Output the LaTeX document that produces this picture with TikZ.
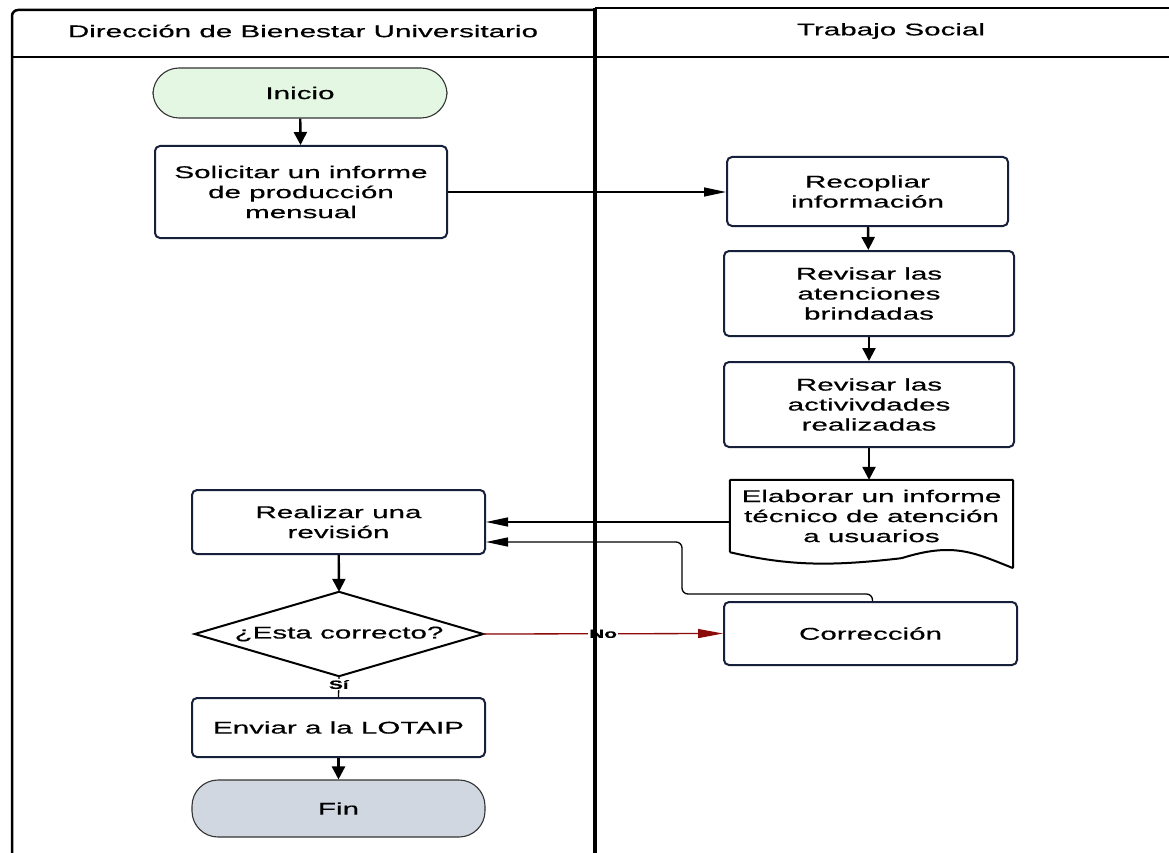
\documentclass[tikz,border=0pt]{standalone}
\usepackage{fontspec}
\setmainfont{Liberation Sans}[FakeStretch=1.74,FakeBold=0.5]
\usetikzlibrary{arrows.meta,calc}
\definecolor{boxline}{HTML}{16203A}
\definecolor{startfill}{HTML}{E3F7E3}
\definecolor{endfill}{HTML}{D0D7E0}
\definecolor{noline}{HTML}{8B0A0A}

\begin{document}
\begin{tikzpicture}[x=1pt,y=-1pt,
  every node/.style={font=\fontsize{17}{20}\selectfont, align=center, inner sep=0pt},
  proc/.style={draw=boxline, line width=2pt, rounded corners=5pt, fill=white},
  term/.style={draw=black!80, line width=1.1pt, rounded corners=26pt},
  varr/.style={-{Triangle[length=13pt,width=13pt]}, line width=2.4pt},
  harr/.style={-{Triangle[length=22pt,width=9pt]}, line width=1.3pt},
  tag/.style={font=\fontsize{12}{14}\selectfont\bfseries, fill=white, inner sep=1pt}]

\useasboundingbox (0,0) rectangle (1169,853);
\fill[white] (0,0) rectangle (1169,853);

% lane headers
\node (h1) at (303,31) {Dirección de Bienestar Universitario};
\node (h2) at (891,31) {Trabajo Social};

% Dirección de Bienestar Universitario
\node[term, fill=startfill, minimum width=294, minimum height=50] (ini) at (300,93) {Inicio};
\node[proc, minimum width=292, minimum height=92] (sol) at (301,192) {Solicitar un informe\\de producción\\mensual};
\node[proc, minimum width=293, minimum height=64] (rev) at (338.5,522) {Realizar una\\revisión};
\node[minimum width=288, minimum height=84] (dec) at (339,634) {¿Esta correcto?};
\draw[line width=2pt, line join=miter] (dec.west) -- (dec.north) -- (dec.east) -- (dec.south) -- cycle;
\node[proc, minimum width=293, minimum height=59] (env) at (338.5,727.5) {Enviar a la LOTAIP};
\node[term, fill=endfill, minimum width=293, minimum height=57] (fin) at (338.5,808.5) {Fin};

% Trabajo Social
\node[proc, minimum width=281, minimum height=69] (rec) at (867.5,191.5) {Recopliar\\información};
\node[proc, minimum width=290, minimum height=85] (ra) at (869,293.5) {Revisar las\\atenciones\\brindadas};
\node[proc, minimum width=290, minimum height=85] (rb) at (869,404.5) {Revisar las\\activivdades\\realizadas};
\node[minimum width=283, minimum height=72] (ela) at (871.5,516) {Elaborar un informe\\técnico de atención\\a usuarios};
\draw[draw=black, line width=2pt, fill=white, rounded corners=1pt]
  (ela.south west) -- (ela.north west) -- (ela.north east) -- ($(ela.south east)+(0,16)$)
  .. controls ($(ela.south east)+(-40,0)$) and ($(ela.south east)+(-60,-10)$) .. ($(ela.south)+(30,6)$)
  .. controls ($(ela.south)+(-40,14)$) and ($(ela.south west)+(60,14)$) .. (ela.south west);
\node at (ela) {Elaborar un informe\\técnico de atención\\a usuarios};
\node[proc, minimum width=293, minimum height=63] (cor) at (870.5,633.5) {Corrección};

% connectors
\draw[varr] (ini) -- (sol);
\draw[harr] (sol.east) -- (rec.west |- sol.east);
\draw[varr] (rec) -- (ra);
\draw[varr] (ra) -- (rb);
\draw[varr] (rb) -- (rb |- ela.north);
\draw[harr] (rev.east -| ela.west) -- (rev.east);
\draw[harr, rounded corners=6pt] ([xshift=2pt]cor.north) -- ++(0,-7) -| ($(rev.east)+(196,20)$) -- ($(rev.east)+(0,20)$);
\draw[varr] (rev) -- (dec.north);
\draw[-{Triangle[length=25pt,width=9pt]}, line width=1.3pt, draw=noline, fill=noline]
  (dec.east) -- node[tag] {No} (cor.west);
\draw[line width=1.3pt] (dec.south) -- node[tag, pos=0.4] {Sí} (env.north);
\draw[varr] (env) -- (fin);

% swimlane borders
\draw[line width=2.5pt, rounded corners=6pt] (12,853) -- (12,10) -- (595,10);
\draw[line width=2.5pt] (595,8) -- (1169,8);
\draw[line width=4pt] (595,853) -- (595,8);
\draw[line width=1.6pt] (12,57) -- (1169,57);
\end{tikzpicture}
\end{document}
